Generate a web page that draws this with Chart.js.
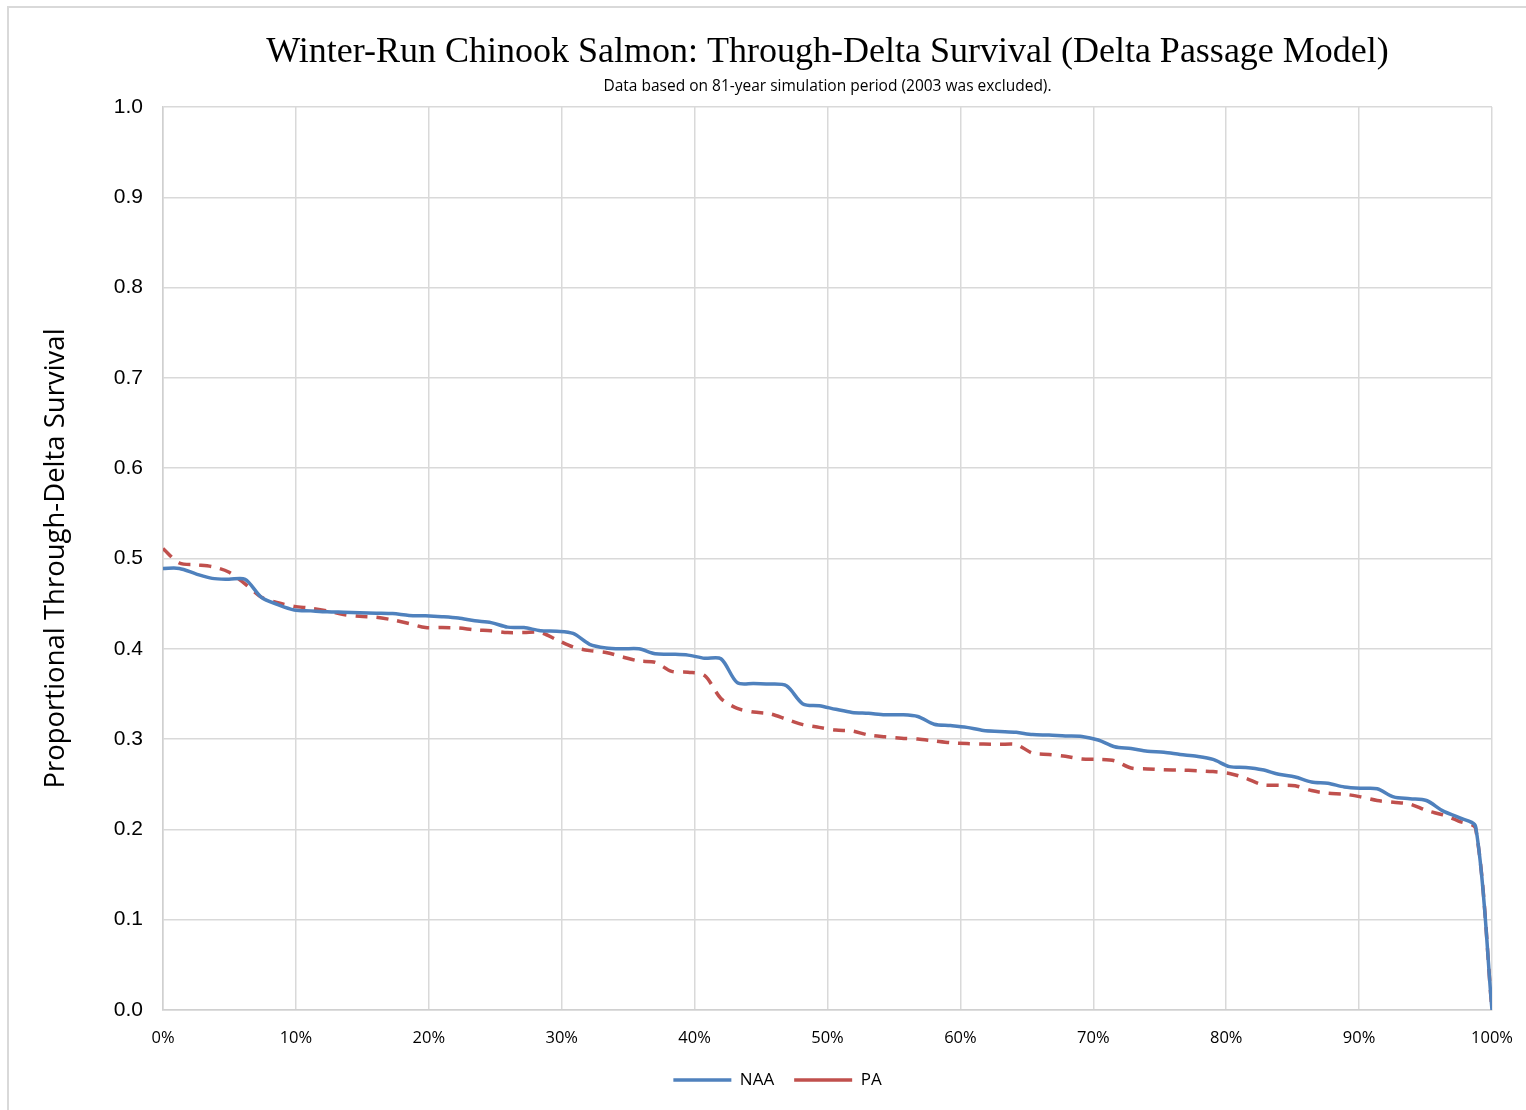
<!DOCTYPE html>
<html>
<head>
<meta charset="utf-8">
<script src="https://cdn.jsdelivr.net/npm/chart.js@4.4.1/dist/chart.umd.min.js"></script>
<style>
  html, body { margin: 0; padding: 0; background: #fff; }
  #wrap { position: relative; width: 1526px; height: 1110px; overflow: hidden; }
  #frame { position: absolute; left: 7px; top: 6px; width: 1540px; height: 1130px;
           border-left: 2px solid #d9d9d9; border-top: 2px solid #d9d9d9; box-sizing: border-box; }
  canvas { position: absolute; left: 0; top: 0; }
</style>
</head>
<body>
<div id="wrap">
  <div id="frame"></div>
  <canvas id="c" width="1526" height="1110"></canvas>
</div>
<script>
// Exceedance probability (%) of each of the 81 ranked years, plus end point
const exceedance = [0.00, 1.23, 2.47, 3.70, 4.94, 6.17, 7.41, 8.64, 9.88, 11.11,
  12.35, 13.58, 14.81, 16.05, 17.28, 18.52, 19.75, 20.99, 22.22, 23.46,
  24.69, 25.93, 27.16, 28.40, 29.63, 30.86, 32.10, 33.33, 34.57, 35.80,
  37.04, 38.27, 39.51, 40.74, 41.98, 43.21, 44.44, 45.68, 46.91, 48.15,
  49.38, 50.62, 51.85, 53.09, 54.32, 55.56, 56.79, 58.02, 59.26, 60.49,
  61.73, 62.96, 64.20, 65.43, 66.67, 67.90, 69.14, 70.37, 71.60, 72.84,
  74.07, 75.31, 76.54, 77.78, 79.01, 80.25, 81.48, 82.72, 83.95, 85.19,
  86.42, 87.65, 88.89, 90.12, 91.36, 92.59, 93.83, 95.06, 96.30, 97.53,
  98.77, 100.00];

const naa = [0.489, 0.489, 0.483, 0.478, 0.477, 0.477, 0.457, 0.449, 0.443, 0.442,
  0.441, 0.4405, 0.440, 0.4395, 0.439, 0.437, 0.4365, 0.4355, 0.434, 0.431,
  0.429, 0.424, 0.4235, 0.420, 0.4195, 0.417, 0.405, 0.401, 0.400, 0.400,
  0.3945, 0.394, 0.393, 0.3895, 0.389, 0.3625, 0.3615, 0.361, 0.359, 0.339,
  0.337, 0.333, 0.3295, 0.3285, 0.327, 0.327, 0.325, 0.3165, 0.315, 0.313,
  0.3095, 0.3085, 0.3075, 0.305, 0.3045, 0.3035, 0.303, 0.299, 0.2915, 0.2895,
  0.2865, 0.2855, 0.283, 0.281, 0.2775, 0.2695, 0.2685, 0.266, 0.261, 0.258,
  0.2525, 0.251, 0.247, 0.2455, 0.245, 0.236, 0.234, 0.232, 0.2205, 0.213,
  0.203, 0.0];

const pa = [0.511, 0.495, 0.493, 0.491, 0.485, 0.472, 0.457, 0.451, 0.447, 0.445,
  0.442, 0.438, 0.436, 0.435, 0.432, 0.428, 0.4235, 0.4235, 0.423, 0.421,
  0.420, 0.418, 0.418, 0.418, 0.410, 0.402, 0.398, 0.396, 0.391, 0.3865,
  0.385, 0.375, 0.374, 0.3705, 0.345, 0.334, 0.330, 0.328, 0.322, 0.316,
  0.313, 0.310, 0.309, 0.3045, 0.3025, 0.301, 0.300, 0.298, 0.296, 0.295,
  0.2945, 0.2942, 0.294, 0.2845, 0.283, 0.281, 0.278, 0.2775, 0.276, 0.268,
  0.267, 0.266, 0.2658, 0.265, 0.264, 0.262, 0.2566, 0.2495, 0.249, 0.2484,
  0.243, 0.240, 0.239, 0.236, 0.232, 0.230, 0.228, 0.221, 0.216, 0.209,
  0.201, 0.0];

const xTicks = [0, 10, 20, 30, 40, 50, 60, 70, 80, 90, 100];
const yTicks = [0.0, 0.1, 0.2, 0.3, 0.4, 0.5, 0.6, 0.7, 0.8, 0.9, 1.0];

const seriesNames = ['NAA', 'PA'];
const titleText = 'Winter-Run Chinook Salmon: Through-Delta Survival (Delta Passage Model)';
const subtitleText = 'Data based on 81-year simulation period (2003 was excluded).';
const yTitle = 'Proportional Through-Delta Survival';

function pts(ys) { return ys.map((y, i) => ({ x: exceedance[i], y: y })); }

const calibri = "'Open Sans', 'Noto Sans', sans-serif";

new Chart(document.getElementById('c'), {
  type: 'line',
  data: {
    datasets: [
      { label: seriesNames[0], data: pts(naa), borderColor: '#4f81bd', backgroundColor: '#4f81bd',
        borderWidth: 3.5, pointRadius: 0, tension: 0.3, fill: false },
      { label: seriesNames[1], data: pts(pa), borderColor: '#c0504d', backgroundColor: '#c0504d',
        borderWidth: 3.5, borderDash: [12, 9], pointRadius: 0, tension: 0.3, fill: false }
    ]
  },
  options: {
    responsive: false,
    animation: false,
    devicePixelRatio: 1,
    layout: { padding: { left: 63, right: 34, top: 0, bottom: 11.5 } },
    plugins: {
      title: {
        display: true, text: titleText, fullSize: false, color: '#000',
        font: { family: "'Liberation Serif', 'Times New Roman', serif", size: 36, weight: 'normal', lineHeight: 1.2 },
        padding: { top: 31, bottom: 0 }
      },
      subtitle: {
        display: true, text: subtitleText, fullSize: false, color: '#000',
        font: { family: calibri, size: 15.5, weight: 'normal', lineHeight: 1.2 },
        padding: { top: 3.5, bottom: 10.7 }
      },
      legend: {
        display: true, position: 'bottom',
        labels: {
          usePointStyle: true, pointStyle: 'line', pointStyleWidth: 58, boxHeight: 17,
          padding: 20, color: '#000',
          font: { family: calibri, size: 17 }
        }
      },
      tooltip: { enabled: false }
    },
    scales: {
      x: {
        type: 'linear', min: 0, max: 100,
        afterBuildTicks: (s) => { s.ticks = xTicks.map(v => ({ value: v })); },
        afterFit: (s) => { s.height = 41.5; },
        ticks: { color: '#000', padding: 4, font: { family: calibri, size: 16.5 },
                 callback: (v) => v + '%', maxRotation: 0 },
        grid: { color: '#d9d9d9', lineWidth: 1.5, drawTicks: true, tickLength: 14.5, tickColor: 'rgba(0,0,0,0)' },
        border: { color: '#d0d0d0', width: 1.5 }
      },
      y: {
        type: 'linear', min: 0, max: 1,
        afterBuildTicks: (s) => { s.ticks = yTicks.map(v => ({ value: v })); },
        afterFit: (s) => { s.width = 100; },
        ticks: { color: '#000', padding: 20, font: { family: "'Liberation Sans', Arial, sans-serif", size: 21 },
                 callback: (v) => Number(v).toFixed(1) },
        grid: { color: '#d9d9d9', lineWidth: 1.5, drawTicks: false },
        border: { color: '#d0d0d0', width: 1.5 },
        title: { display: true, text: yTitle, color: '#000',
                 font: { family: calibri, size: 27.5, lineHeight: 1.2 },
                 padding: { top: -23.5, bottom: 0 } }
      }
    }
  }
});
</script>
</body>
</html>
